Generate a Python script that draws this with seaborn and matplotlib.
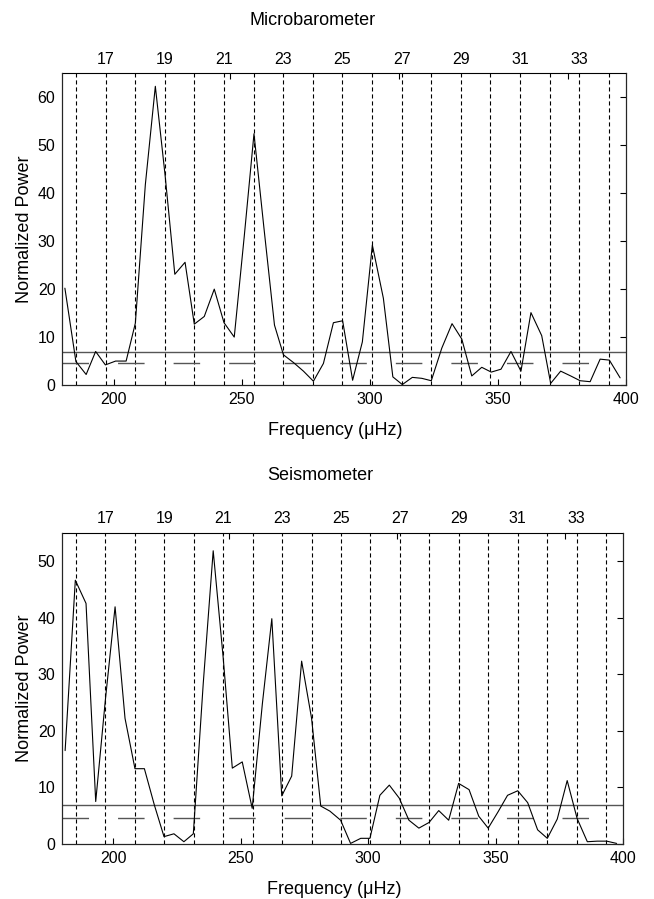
import matplotlib
matplotlib.use('Agg')
import matplotlib.pyplot as plt
import seaborn as sns

# Microbarometer spectrum
baro_freq = [181.0, 185.3, 189.3, 193.0, 196.8, 200.8, 204.9, 208.5, 212.4, 216.3,
             220.1, 223.9, 227.9, 231.5, 235.4, 239.3, 243.1, 247.1, 251.0, 254.8,
             258.7, 262.8, 266.3, 270.2, 274.1, 278.0, 281.9, 285.8, 289.4, 293.3,
             297.1, 301.0, 305.3, 309.0, 312.7, 316.6, 320.3, 324.0, 328.1, 332.1,
             335.9, 339.8, 343.7, 347.4, 351.2, 355.1, 359.0, 362.9, 367.1, 370.6,
             374.5, 378.4, 382.1, 386.0, 389.9, 393.5, 397.7]
baro_power = [20.2, 4.9, 2.2, 7.0, 4.2, 5.0, 5.0, 12.9, 41.8, 62.3,
              43.8, 23.1, 25.6, 12.7, 14.3, 20.0, 13.0, 10.0, 31.0, 52.4,
              32.7, 12.5, 6.3, 4.7, 2.9, 0.8, 4.5, 13.0, 13.4, 1.0,
              9.0, 29.2, 18.1, 1.7, 0.1, 1.6, 1.4, 0.9, 7.7, 12.8,
              9.6, 1.9, 3.7, 2.7, 3.3, 7.0, 2.9, 15.1, 10.3, 0.35,
              2.9, 1.9, 0.9, 0.7, 5.4, 5.2, 1.5]

# Seismometer spectrum
seis_freq = [181.1, 185.1, 189.3, 193.1, 196.9, 200.7, 204.6, 208.5, 212.2, 216.1,
             219.9, 223.8, 227.7, 231.4, 235.3, 239.2, 243.1, 246.7, 250.6, 254.5,
             258.5, 262.2, 266.1, 270.0, 273.9, 277.8, 281.4, 285.0, 289.2, 293.1,
             297.1, 300.7, 304.6, 308.3, 312.2, 316.0, 319.9, 323.9, 327.7, 331.6,
             335.5, 339.6, 343.4, 347.1, 351.0, 354.7, 358.7, 362.6, 366.5, 370.3,
             374.2, 378.1, 382.0, 386.0, 389.9, 393.6, 397.5]
seis_power = [16.5, 46.6, 42.5, 7.5, 25.5, 41.9, 22.2, 13.3, 13.3, 6.9,
              1.3, 1.8, 0.4, 1.8, 28.4, 51.8, 33.0, 13.4, 14.5, 6.3,
              24.8, 39.8, 8.5, 12.0, 32.3, 22.2, 6.7, 5.8, 4.2, 0.1,
              1.0, 1.0, 8.6, 10.4, 8.1, 4.2, 2.8, 3.8, 5.9, 4.2,
              10.7, 9.6, 4.9, 2.8, 5.7, 8.6, 9.4, 7.3, 2.5, 1.0,
              4.4, 11.2, 4.5, 0.4, 0.5, 0.5, 0.1]

# mode frequencies (dashed lines) and their numbers
mode_n = [16, 17, 18, 19, 20, 21, 22, 23, 24, 25, 26, 27, 28, 29, 30, 31, 32, 33, 34]
mode_freq = [185.3, 196.9, 208.4, 220.0, 231.5, 243.1, 254.7, 266.2, 277.8, 289.3,
             300.9, 312.5, 324.0, 335.6, 347.1, 358.7, 370.3, 381.8, 393.4]

# significance levels
level_solid = 6.8
level_dash = 4.6

top_tick_freq = [245.5, 311.5, 377.2]

sns.set_style('white')
plt.rcParams['font.family'] = ['Liberation Sans', 'DejaVu Sans']
plt.rcParams['text.color'] = 'k'
plt.rcParams['axes.labelcolor'] = 'k'

fig = plt.figure(figsize=(6.54, 8.99), dpi=100)
ax1 = fig.add_axes([0.0953, 0.5717, 0.8619, 0.3467])
ax2 = fig.add_axes([0.0953, 0.0612, 0.8573, 0.3463])


def draw_panel(ax, freq, power, ymax, yticks, title, title_x, title_y):
    ax.set_xlim(180, 400)
    ax.set_ylim(0, ymax)
    for f in mode_freq:
        ax.axvline(f, color='k', lw=0.8, dashes=(3.7, 2.6), zorder=1)
    ax.axhline(level_solid, color='#555555', lw=1.0, zorder=1)
    ax.axhline(level_dash, xmax=0.97, color='#555555', lw=1.0,
               dashes=(19.1, 20.9), zorder=1)
    sns.lineplot(x=freq, y=power, ax=ax, color='k', lw=0.8,
                 sort=False, estimator=None, zorder=3)

    ax.set_xticks([200, 250, 300, 350, 400])
    ax.set_yticks(yticks)
    ax.tick_params(direction='in', length=4, width=0.8, top=False, right=True,
                   labelsize=11.5, pad=5, colors='k')
    for sp in ax.spines.values():
        sp.set_color('k')
        sp.set_linewidth(0.8)

    axt = ax.twiny()
    axt.set_xlim(180, 400)
    axt.set_xticks(top_tick_freq)
    axt.set_xticklabels([])
    axt.tick_params(direction='in', length=4, width=0.8, colors='k')
    axt.spines['top'].set_visible(False)

    for n, f in zip(mode_n, mode_freq):
        if n % 2 == 1:
            ax.text(f, 1.045, str(n), transform=ax.get_xaxis_transform(),
                    ha='center', va='center', fontsize=11.5,
                    family=['Liberation Sans Narrow', 'Liberation Sans'])

    ax.set_xlabel('Frequency (μHz)', fontsize=13)
    ax.xaxis.set_label_coords(0.485, -0.118)
    ax.set_ylabel('Normalized Power', fontsize=13)
    ax.yaxis.set_label_coords(-0.052, 0.5)
    ax.text(title_x, title_y, title, transform=ax.transAxes, ha='center',
            va='center', fontsize=13)


draw_panel(ax1, baro_freq, baro_power, 65, [0, 10, 20, 30, 40, 50, 60],
           'Microbarometer', 0.444, 1.171)
draw_panel(ax2, seis_freq, seis_power, 55, [0, 10, 20, 30, 40, 50],
           'Seismometer', 0.46, 1.183)

fig.savefig('out.png', dpi=100)
